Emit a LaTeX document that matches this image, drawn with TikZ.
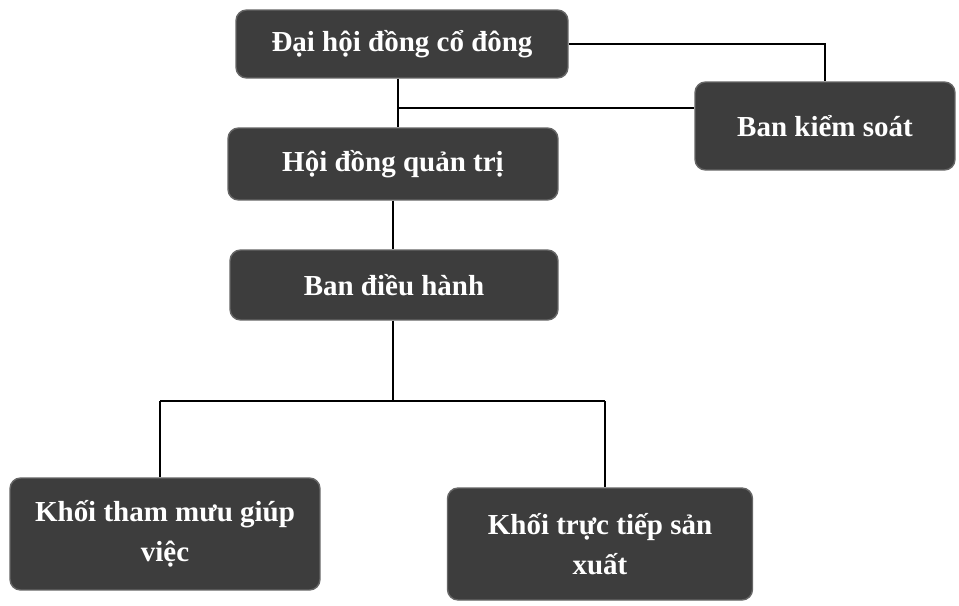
\documentclass[tikz,border=0pt]{standalone}
\usepackage{fontspec}
\setmainfont{Liberation Serif}
\begin{document}
\begin{tikzpicture}[x=0.02cm,y=-0.02cm,
  orgbox/.style={draw=black!60, line width=0.8pt, fill=black!76, rounded corners=6pt,
    text=white, font=\bfseries\fontsize{16.5}{23}\selectfont, align=center, inner sep=0pt},
  link/.style={draw=black, line width=1.2pt}]
\useasboundingbox (0,0) rectangle (959,605);
\node[orgbox, minimum width=6.64cm, minimum height=1.36cm] (dh) at (402,44) {Đại hội đồng cổ đông};
\node[orgbox, minimum width=5.2cm, minimum height=1.76cm] (bks) at (825,126) {Ban kiểm soát};
\node[orgbox, minimum width=6.6cm, minimum height=1.44cm] (hd) at (393,164) {Hội đồng quản trị};
\node[orgbox, minimum width=6.56cm, minimum height=1.4cm] (bdh) at (394,285) {Ban điều hành};
\node[orgbox, minimum width=6.2cm, minimum height=2.24cm] (k1) at (165,534) {Khối tham mưu giúp\\việc};
\node[orgbox, minimum width=6.1cm, minimum height=2.24cm] (k2) at (600,544) {Khối trực tiếp sản\\xuất};
\coordinate (j1) at (398,108);
\coordinate (j2) at (393,225);
\coordinate (bl) at (160,401);
\coordinate (br) at (605,401);
\draw[link] (dh.east) -| (bks.north);
\draw[link] (dh.south -| j1) -- (hd.north -| j1);
\draw[link] (j1) -- (j1 -| bks.west);
\draw[link] (hd.south -| j2) -- (bdh.north -| j2);
\draw[link] (bdh.south -| j2) -- (bl -| j2);
\draw[link] (bl) -- (br);
\draw[link] (bl) -- (bl |- k1.north);
\draw[link] (br) -- (br |- k2.north);
\end{tikzpicture}
\end{document}
